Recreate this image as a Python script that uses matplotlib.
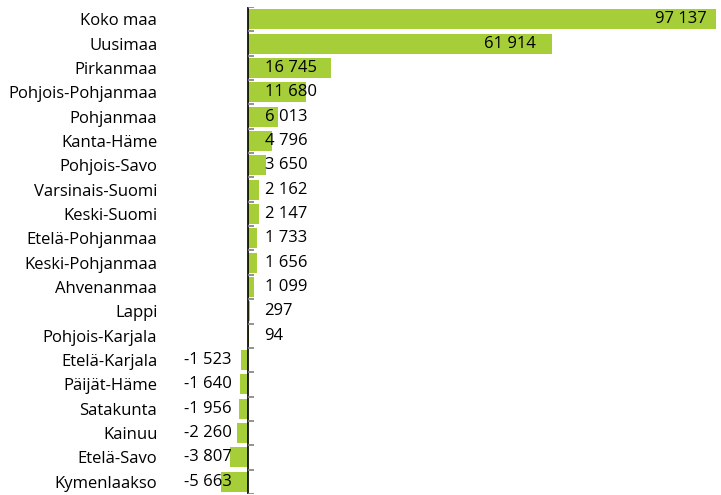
import matplotlib.pyplot as plt
import numpy as np

# data
regions = ['Koko maa', 'Uusimaa', 'Pirkanmaa', 'Pohjois-Pohjanmaa', 'Pohjanmaa',
           'Kanta-Häme', 'Pohjois-Savo', 'Varsinais-Suomi', 'Keski-Suomi',
           'Etelä-Pohjanmaa', 'Keski-Pohjanmaa', 'Ahvenanmaa', 'Lappi',
           'Pohjois-Karjala', 'Etelä-Karjala', 'Päijät-Häme', 'Satakunta',
           'Kainuu', 'Etelä-Savo', 'Kymenlaakso']
values = [97137, 61914, 16745, 11680, 6013, 4796, 3650, 2162, 2147, 1733,
          1656, 1099, 297, 94, -1523, -1640, -1956, -2260, -3807, -5663]

plt.rcParams['font.family'] = ['Open Sans', 'DejaVu Sans']
plt.rcParams['font.size'] = 12

green = '#a6ce39'
xmin, xmax = -11900, 95300


def fmt(v):
    s = f'{abs(v):,}'.replace(',', ' ')
    return '-' + s if v < 0 else s


fig = plt.figure(figsize=(7.21, 4.95), dpi=100)
ax = fig.add_axes([190 / 721, 1 / 495, 526 / 721, 487 / 495])

y = np.arange(len(regions))
ax.barh(y, values, height=0.82, color=green, edgecolor='none')
ax.set_xlim(xmin, xmax)
ax.set_ylim(len(regions) - 0.5, -0.5)

# value labels
for yi, v in zip(y, values):
    if v > 20000:
        ax.text(min(v, xmax * 1.015) - 3300, yi, fmt(v), ha='right', va='center')
    elif v >= 0:
        ax.text(3300, yi, fmt(v), ha='left', va='center')
    else:
        ax.text(-3450, yi, fmt(v), ha='right', va='center')

# axis line and the little tick marks between rows
ax.axvline(0, color='black', lw=1.2)
ax.hlines(np.arange(len(regions) + 1) - 0.5, 0, 1100, color='#808080', lw=1.2)

ax.set_yticks(y)
ax.set_yticklabels(regions)
ax.tick_params(axis='y', length=0, pad=23.5)
ax.set_xticks([])
for s in ax.spines.values():
    s.set_visible(False)

plt.savefig('out.png', dpi=100)
